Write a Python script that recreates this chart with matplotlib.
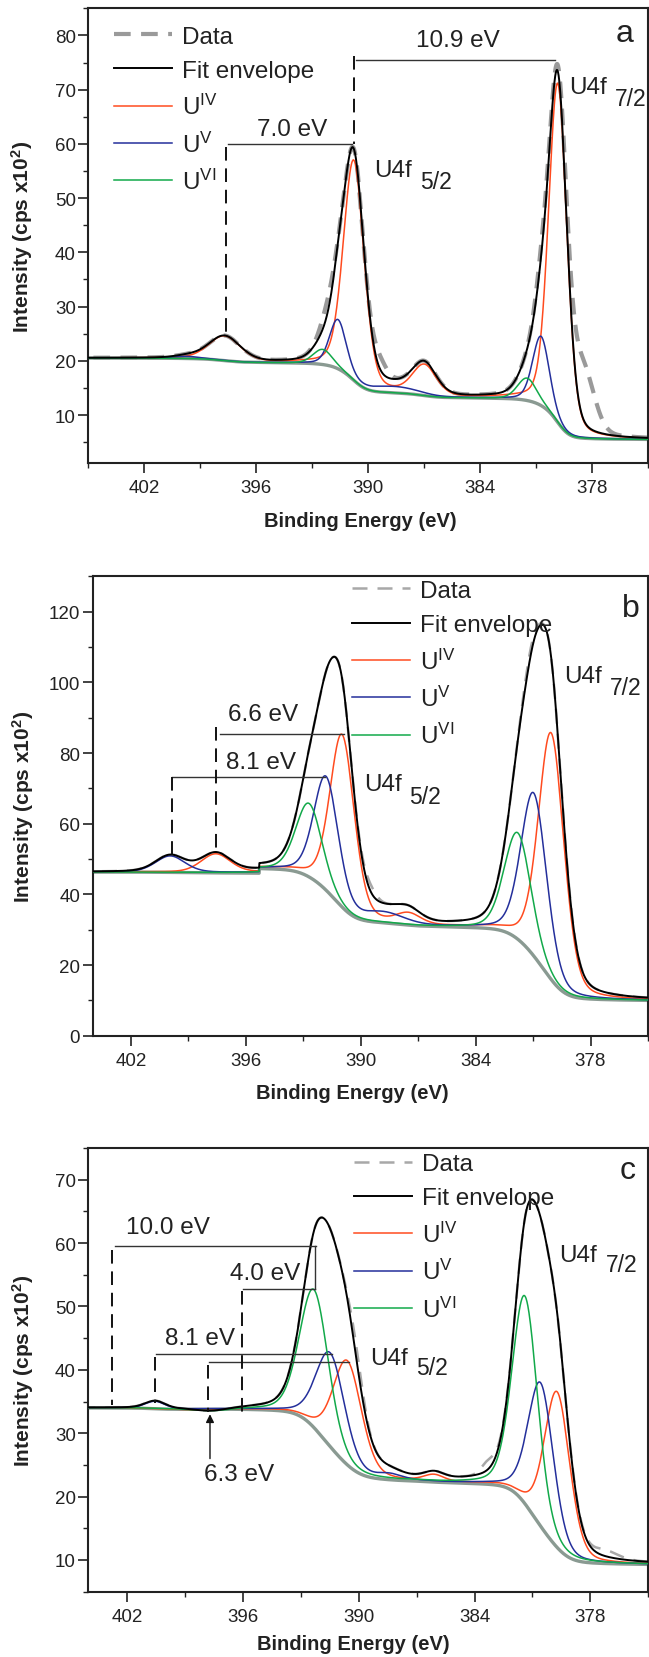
import numpy as np
import matplotlib
matplotlib.use("Agg")
import matplotlib.pyplot as plt
from matplotlib.ticker import MultipleLocator

plt.rcParams['font.family'] = ['Liberation Sans', 'DejaVu Sans']
plt.rcParams['mathtext.fontset'] = 'custom'
plt.rcParams['mathtext.rm'] = 'Liberation Sans'
plt.rcParams['mathtext.bf'] = 'Liberation Sans:bold'
plt.rcParams['mathtext.it'] = 'Liberation Sans:italic'

# peak components: (binding energy, curve top, fwhm)
a_u4 = [(379.85, 71.1, 1.15), (390.78, 56.9, 1.30), (397.70, 24.5, 2.0), (387.0, 19.0, 1.5)]
a_u5 = [(380.75, 24.5, 1.05), (391.63, 27.5, 1.05), (399.70, 20.8, 1.6), (388.6, 15.2, 3.0)]
a_u6 = [(381.50, 16.8, 1.20), (392.45, 22.1, 1.20)]
# where the measured data leaves the fit: (binding energy, excess, fwhm)
a_resid = [(378.5, 11.0, 1.4), (380.7, 2.0, 0.9), (389.4, 2.5, 0.9), (392.2, 2.5, 0.9)]
# background segments: (BE from, BE to, level at low end, level at high end)
a_bg = [(375.0, 385.5, 5.5, 13.2), (385.5, 405.5, 13.2, 20.5)]

b_u4 = [(380.05, 85.6, 1.58), (390.97, 85.1, 1.5), (397.57, 51.3, 1.8), (387.5, 34.2, 1.5)]
b_u5 = [(380.96, 68.6, 1.58), (391.81, 73.2, 1.5), (399.95, 50.8, 1.8), (388.8, 34.6, 2.5)]
b_u6 = [(381.80, 57.4, 1.65), (392.70, 65.7, 1.6)]
b_resid = [(389.5, 2.0, 0.8), (381.2, 2.0, 0.8)]
b_bg = [(375.0, 385.5, 10.0, 30.8), (385.5, 395.3, 30.8, 47.3), (395.3, 405.5, 46.0, 46.3)]

c_u4 = [(379.72, 36.5, 1.55), (390.58, 41.4, 1.75), (397.90, 33.6, 2.0), (386.1, 23.3, 1.2)]
c_u5 = [(380.57, 37.9, 1.55), (391.46, 42.6, 1.75), (400.54, 35.0, 1.2), (388.4, 23.4, 1.5)]
c_u6 = [(381.39, 51.6, 1.55), (392.31, 52.6, 1.75), (397.50, 33.4, 2.0)]
c_resid = [(383.3, 1.5, 0.8), (390.1, 2.0, 0.8), (377.2, 1.0, 1.5)]
c_bg = [(375.0, 385.5, 9.3, 22.2), (385.5, 405.5, 22.2, 34.0)]

# peak separation markers: horizontal solid (x1, x2, y), vertical dashed (x, y1, y2)
a_hlines = [(397.54, 390.85, 60.0), (390.67, 379.98, 75.4)]
a_vdash = [(397.65, 59.4, 24.7), (390.78, 76.2, 60.0)]
a_notes = [("7.0 eV", 394.06, 62.8), ("10.9 eV", 385.2, 79.1)]

b_hlines = [(397.35, 390.90, 85.4), (399.85, 391.85, 73.3)]
b_vdash = [(397.57, 87.5, 51.3), (399.85, 73.3, 50.8)]
b_notes = [("6.6 eV", 395.1, 91.0), ("8.1 eV", 395.23, 77.35)]

c_hlines = [(402.6, 392.2, 59.6), (396.0, 392.25, 52.76), (400.48, 391.4, 42.5), (397.76, 390.5, 41.3)]
c_vsolid = [(392.25, 59.6, 52.76)]
c_vdash = [(402.75, 58.9, 34.5), (396.05, 52.5, 32.8), (400.54, 42.1, 34.8), (397.8, 40.7, 33.4)]
c_notes = [("10.0 eV", 399.88, 62.6), ("4.0 eV", 394.82, 55.2), ("8.1 eV", 398.2, 45.1), ("6.3 eV", 396.21, 23.6)]
c_arrow = (397.7, 26.0, 33.0)

a_u4f = [(389.67, 55.2, 387.25, 53.1, "5/2"), (379.27, 70.4, 376.8, 68.4, "7/2")]
b_u4f = [(389.83, 71.1, 387.45, 67.7, "5/2"), (379.36, 101.9, 376.98, 98.6, "7/2")]
c_u4f = [(389.40, 41.9, 387.04, 40.3, "5/2"), (379.60, 58.1, 377.20, 56.6, "7/2")]

x = np.linspace(375, 405.5, 2000)

RED = '#ff4b1f'
BLUE = '#242f9b'
GREEN = '#12a94a'
TXT = '#222222'


def pv(x, c, w, eta=0.25):
    u = (x - c) / w
    return eta / (1 + 4 * u ** 2) + (1 - eta) * np.exp(-4 * np.log(2) * u ** 2)


def shirley(total, segments):
    bg = np.zeros_like(x)
    for e0, e1, lo, hi in segments:
        m = (x >= e0) & (x <= e1)
        xs, ts = x[m], total[m]
        cum = np.concatenate([[0], np.cumsum(0.5 * (ts[1:] + ts[:-1]) * np.diff(xs))])
        bg[m] = lo + (hi - lo) * cum / max(cum[-1], 1e-9)
    return bg


def build(groups, segments):
    peaks = [p for g in groups for p in g]
    amps = [top - segments[0][2] for _, top, _ in peaks]
    for _ in range(12):
        total = sum(a * pv(x, c, w) for a, (c, _, w) in zip(amps, peaks))
        bg = shirley(total, segments)
        amps = [top - np.interp(c, x, bg) for c, top, _ in peaks]
    comps, k = [], 0
    for g in groups:
        y = bg.copy()
        for c, _, w in g:
            y += amps[k] * pv(x, c, w)
            k += 1
        comps.append(y)
    env = bg + sum(cm - bg for cm in comps)
    return bg, comps, env


def panel(rect, groups, segments, resid, data_style, xlim, ylim, ymaj, ymin,
          hlines, vdash, notes, u4f, letter, legend_anchor, xlab_pos, ylab_pos,
          vsolid=(), arrow=None):
    ax = fig.add_axes(rect)
    bg, comps, env = build(groups, segments)
    data = env + sum(a * pv(x, c, w, eta=0.1) for c, a, w in resid)
    hd, = ax.plot(x, data, color=data_style[0], lw=data_style[1], dashes=data_style[2],
                  label='Data', zorder=1)
    ax.plot(x, bg, color='#8a9a92', lw=2.4, zorder=2)
    names = [r'U$^{\mathrm{IV}}$', r'U$^{\mathrm{V}}$', r'U$^{\mathrm{VI}}$']
    hs = []
    for y, col, nm in zip(comps, [RED, BLUE, GREEN], names):
        h, = ax.plot(x, y, color=col, lw=1.1, label=nm, zorder=3)
        hs.append(h)
    he, = ax.plot(x, env, color='black', lw=1.4, label='Fit envelope', zorder=4)

    for x1, x2, y in hlines:
        ax.plot([x1, x2], [y, y], color='#333333', lw=1.0, zorder=5)
    for xv, y1, y2 in vsolid:
        ax.plot([xv, xv], [y1, y2], color='#333333', lw=1.0, zorder=5)
    for xv, y1, y2 in vdash:
        ax.plot([xv, xv], [y1, y2], color='#111111', lw=1.4, dashes=(7, 4), zorder=5)
    for t, tx, ty in notes:
        ax.text(tx, ty, t, fontsize=17.5, ha='center', va='center', color=TXT)
    if arrow is not None:
        ax.annotate('', xy=(arrow[0], arrow[2]), xytext=(arrow[0], arrow[1]),
                    arrowprops=dict(arrowstyle='-|>', color='#111111', lw=1.0,
                                    mutation_scale=12, shrinkA=0, shrinkB=0))
    for ux, uy, sx, sy, sub in u4f:
        ax.text(ux, uy, 'U4f', fontsize=17.5, ha='left', va='center', color=TXT)
        ax.text(sx, sy, sub, fontsize=16.5, ha='left', va='center', color=TXT)
    ax.text(letter[1], letter[2], letter[0], fontsize=23, ha='center', va='center', color=TXT)

    leg = ax.legend(handles=[hd, he] + hs, loc='upper left', bbox_to_anchor=legend_anchor,
                    frameon=False, fontsize=17.5, handlelength=2.4, handletextpad=0.4,
                    borderpad=0, borderaxespad=0, labelspacing=0.5)
    for t in leg.get_texts():
        t.set_color(TXT)

    ax.set_xlim(*xlim)
    ax.set_ylim(*ylim)
    ax.xaxis.set_major_locator(MultipleLocator(6))
    ax.xaxis.set_minor_locator(MultipleLocator(3))
    ax.yaxis.set_major_locator(MultipleLocator(ymaj))
    ax.yaxis.set_minor_locator(MultipleLocator(ymin))
    ax.tick_params(which='major', length=7, width=1.2, direction='out', labelsize=13.5,
                   colors=TXT, pad=2)
    ax.tick_params(axis='x', which='major', pad=5)
    ax.tick_params(which='minor', length=3.5, width=1.0, direction='out', colors=TXT)
    for s in ax.spines.values():
        s.set_linewidth(1.5)
        s.set_color(TXT)
    ax.set_xlabel('Binding Energy (eV)', fontsize=14.5, fontweight='bold', color=TXT)
    ax.set_ylabel(r'Intensity (cps x10$^{\mathbf{2}}$)', fontsize=15, fontweight='bold',
                  color=TXT)
    ax.xaxis.set_label_coords(*xlab_pos)
    ax.yaxis.set_label_coords(*ylab_pos)
    return ax


fig = plt.figure(figsize=(6.49, 16.58), dpi=100)

panel([0.1361, 0.7203, 0.8629, 0.2741], [a_u4, a_u5, a_u6], a_bg, a_resid,
      ('#9a9a9a', 3.0, (4, 2.5)), (405, 375), (1.2, 85), 10, 5,
      a_hlines, a_vdash, a_notes, a_u4f, ('a', 376.3, 80.5), (0.046, 0.962),
      (0.485, -0.106), (-0.095, 0.5))

panel([0.1428, 0.3747, 0.8556, 0.2771], [b_u4, b_u5, b_u6], b_bg, b_resid,
      ('#a8a8a8', 1.8, (6, 4)), (404, 375), (0, 130), 20, 10,
      b_hlines, b_vdash, b_notes, b_u4f, ('b', 375.9, 121.1), (0.467, 0.992),
      (0.467, -0.103), (-0.102, 0.5))

panel([0.1361, 0.0394, 0.8629, 0.2676], [c_u4, c_u5, c_u6], c_bg, c_resid,
      ('#a8a8a8', 1.8, (6, 4)), (404, 375), (5, 75), 10, 5,
      c_hlines, c_vdash, c_notes, c_u4f, ('c', 376.07, 71.6), (0.474, 0.988),
      (0.473, -0.095), (-0.093, 0.5), vsolid=c_vsolid, arrow=c_arrow)

fig.savefig('out.png', dpi=100)
